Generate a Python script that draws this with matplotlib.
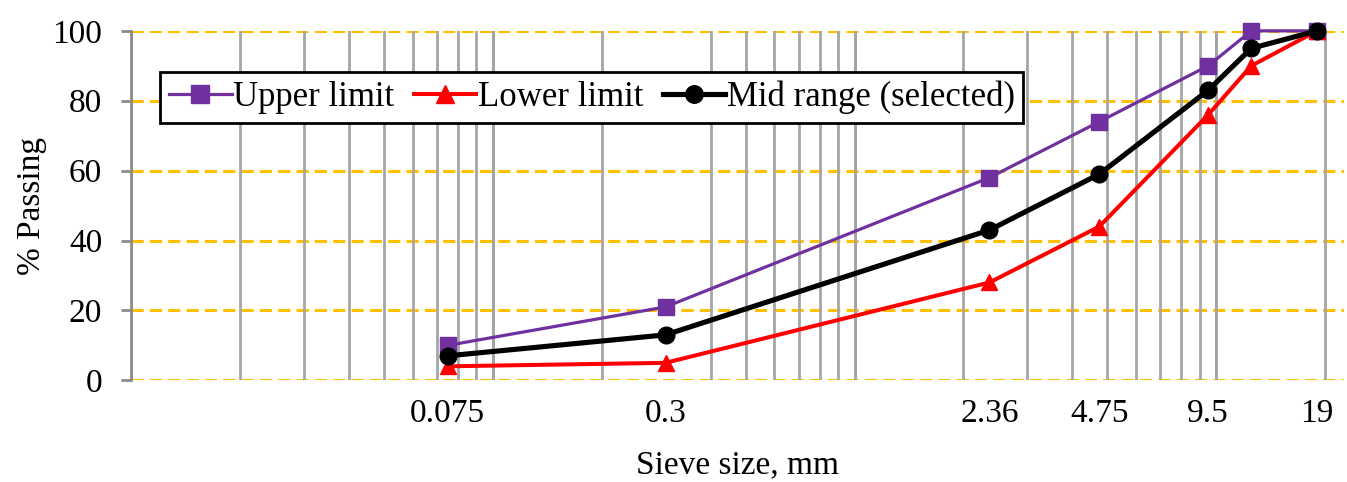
import matplotlib.pyplot as plt
import numpy as np
from matplotlib.ticker import LogLocator, NullFormatter

plt.rcParams['font.family'] = ['Liberation Serif', 'DejaVu Serif']
plt.rcParams['font.size'] = 24

# sieve sizes (mm) and % passing
sizes = [0.075, 0.3, 2.36, 4.75, 9.5, 12.5, 19]
upper = [10, 21, 58, 74, 90, 100, 100]
lower = [4, 5, 28, 44, 76, 90, 100]
mid = [7, 13, 43, 59, 83, 95, 100]

tick_sizes = [0.075, 0.3, 2.36, 4.75, 9.5, 19]
tick_labels = ['0.075', '0.3', '2.36', '4.75', '9.5', '19']
yticks = [0, 20, 40, 60, 80, 100]

fig = plt.figure(figsize=(13.47, 4.82), dpi=100)
ax = fig.add_axes((0.0975, 0.211, 0.9, 0.725))

ax.set_xscale('log')
ax.set_xlim(0.01, 22.5)
ax.set_ylim(0, 100)

# gray vertical grid on log minor positions
ax.xaxis.set_minor_locator(LogLocator(base=10, subs=np.arange(1, 10), numticks=20))
ax.xaxis.set_minor_formatter(NullFormatter())
ax.grid(True, which='minor', axis='x', color='#A6A6A6', lw=2, zorder=0)
for d in [0.1, 1, 10]:
    ax.axvline(d, color='#858585', lw=2, zorder=0.5)

ax.set_xticks(tick_sizes)
ax.set_xticklabels(tick_labels)
ax.tick_params(axis='x', which='both', length=0, pad=13)

ax.set_yticks(yticks)
ax.tick_params(axis='y', length=7, width=2, color='#8C8C8C', pad=14)
for y in yticks:
    ax.axhline(y, color='#FFC000', lw=2.2, ls=(0, (4, 2)), zorder=1)

for s in ['top', 'right', 'bottom']:
    ax.spines[s].set_visible(False)
ax.spines['left'].set_color('#8C8C8C')
ax.spines['left'].set_linewidth(2)

ax.plot(sizes, upper, color='#7030A0', lw=2.3, marker='s', ms=12,
        label='Upper limit', zorder=3, clip_on=False)
ax.plot(sizes, lower, color='#FF0000', lw=2.9, marker='^', ms=12,
        label='Lower limit', zorder=3, clip_on=False)
ax.plot(sizes, mid, color='black', lw=3.7, marker='o', ms=12,
        label='Mid range (selected)', zorder=4, clip_on=False)

ax.set_xlabel('Sieve size, mm', labelpad=15)
ax.set_ylabel('% Passing', labelpad=4)

leg = ax.legend(loc='upper left', bbox_to_anchor=(0.024, 0.883), borderaxespad=0,
                ncol=3, handlelength=1.8, handletextpad=0.05, columnspacing=0.55,
                fancybox=False, framealpha=1, edgecolor='black',
                borderpad=0.25, fontsize=25, markerscale=1.05)
leg.get_frame().set_linewidth(2)

fig.savefig('out.png', dpi=100)
